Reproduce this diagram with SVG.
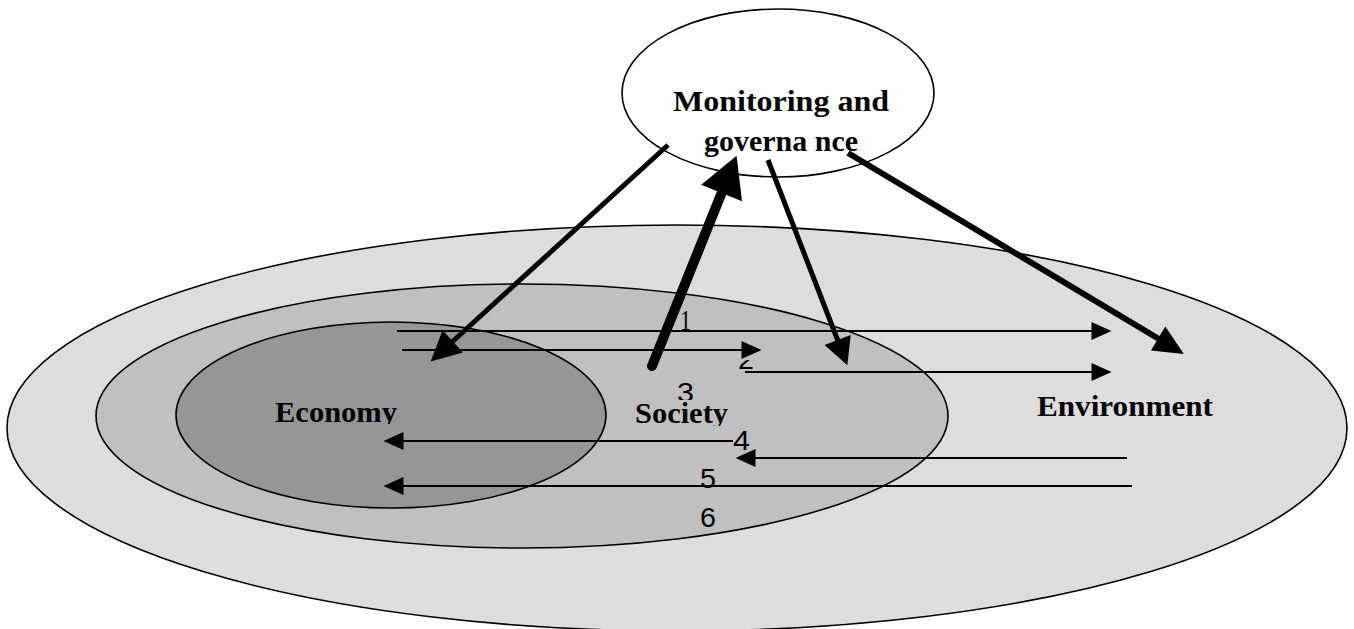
<svg xmlns="http://www.w3.org/2000/svg" width="1354" height="629" viewBox="0 0 1354 629">
<style>
.ell{stroke:#000;stroke-width:1.6}
.lbl{font-family:"Liberation Serif","Times New Roman",serif;font-weight:bold;font-size:29px;fill:#000}
.num{font-family:"Liberation Sans",Arial,sans-serif;font-size:28px;fill:#000}
.thin{stroke:#000;stroke-width:2;fill:none}
.thick{stroke:#000;fill:none}
</style>
<defs>
<marker id="ah" markerUnits="userSpaceOnUse" viewBox="0 -9 20 18" markerWidth="20" markerHeight="18" refX="0.5" refY="0" orient="auto" overflow="visible"><path d="M0,-9 L20,0 L0,9 z" fill="#000"/></marker>
<marker id="ha" markerUnits="userSpaceOnUse" viewBox="0 -15 30 30" markerWidth="30" markerHeight="30" refX="1" refY="0" orient="auto" overflow="visible"><path d="M0,-15 L30,0 L0,15 z" fill="#000"/></marker>
<marker id="hb" markerUnits="userSpaceOnUse" viewBox="0 -22 40 44" markerWidth="40" markerHeight="44" refX="1" refY="0" orient="auto" overflow="visible"><path d="M0,-22 L40,0 L0,22 z" fill="#000"/></marker>
<marker id="hc" markerUnits="userSpaceOnUse" viewBox="0 -14 27 28" markerWidth="27" markerHeight="28" refX="1" refY="0" orient="auto" overflow="visible"><path d="M0,-14 L27,0 L0,14 z" fill="#000"/></marker>
<marker id="hd" markerUnits="userSpaceOnUse" viewBox="0 -14 30 28" markerWidth="30" markerHeight="28" refX="1" refY="0" orient="auto" overflow="visible"><path d="M0,-14 L30,0 L0,14 z" fill="#000"/></marker>
<clipPath id="c2"><rect x="730" y="360" width="40" height="30"/></clipPath>
<clipPath id="c3"><rect x="670" y="370" width="40" height="30"/></clipPath>
<clipPath id="cLow"><rect x="0" y="380" width="1354" height="44"/></clipPath>
<clipPath id="cSoc"><rect x="0" y="380" width="1354" height="46"/></clipPath>
</defs>
<rect width="1354" height="629" fill="#fff"/>
<g id="environment">
<ellipse class="ell" cx="677" cy="428" rx="670" ry="203" fill="#dddddd"/>
<text class="lbl" x="1037" y="416" textLength="176" lengthAdjust="spacingAndGlyphs">Environment</text>
</g>
<g id="society">
<ellipse class="ell" cx="522" cy="416" rx="426" ry="132" fill="#c0c0c0"/>
</g>
<g id="economy">
<ellipse class="ell" cx="391" cy="415" rx="215" ry="93" fill="#969696"/>
<text class="lbl" x="275" y="422" textLength="122" lengthAdjust="spacingAndGlyphs" clip-path="url(#cLow)">Economy</text>
</g>
<g id="society-label">
<text class="num" x="677" y="402" textLength="17" lengthAdjust="spacingAndGlyphs" clip-path="url(#c3)">3</text>
<text class="lbl" x="635" y="423" textLength="93" lengthAdjust="spacingAndGlyphs" clip-path="url(#cSoc)">Society</text>
</g>
<g id="monitoring">
<ellipse class="ell" cx="778" cy="93" rx="156" ry="84" fill="#fff"/>
<text class="lbl" x="673" y="111" font-size="30" textLength="216" lengthAdjust="spacingAndGlyphs">Monitoring  and</text>
<text class="lbl" x="704" y="151" font-size="30" textLength="154" lengthAdjust="spacingAndGlyphs">governa nce</text>
</g>
<g id="connectors">
<line class="thin" x1="397" y1="331" x2="1092" y2="331" marker-end="url(#ah)"/>
<line class="thin" x1="402" y1="350" x2="742" y2="350" marker-end="url(#ah)"/>
<line class="thin" x1="745" y1="372" x2="1092" y2="372" marker-end="url(#ah)"/>
<line class="thin" x1="733" y1="441" x2="403" y2="441" marker-end="url(#ah)"/>
<line class="thin" x1="1127" y1="458" x2="755" y2="458" marker-end="url(#ah)"/>
<line class="thin" x1="1132" y1="486" x2="403" y2="486" marker-end="url(#ah)"/>
<line class="thick" stroke-width="5" x1="668" y1="145" x2="452" y2="342" marker-end="url(#ha)"/>
<line class="thick" stroke-width="10" stroke-linecap="round" x1="652" y1="366" x2="722" y2="192" marker-end="url(#hb)"/>
<line class="thick" stroke-width="5" x1="768" y1="160" x2="838" y2="341" marker-end="url(#hc)"/>
<line class="thick" stroke-width="6" x1="848" y1="153" x2="1159" y2="339" marker-end="url(#hd)"/>
</g>
<g id="labels">
<text x="680" y="330" font-family="Liberation Serif, serif" font-size="29" textLength="11" lengthAdjust="spacingAndGlyphs">1</text>
<text class="num" x="738" y="369" textLength="16" lengthAdjust="spacingAndGlyphs" clip-path="url(#c2)">2</text>
<text class="num" x="733" y="450" textLength="17" lengthAdjust="spacingAndGlyphs">4</text>
<text class="num" x="700" y="488" textLength="16" lengthAdjust="spacingAndGlyphs">5</text>
<text class="num" x="700" y="527" textLength="16" lengthAdjust="spacingAndGlyphs">6</text>
</g>
</svg>
